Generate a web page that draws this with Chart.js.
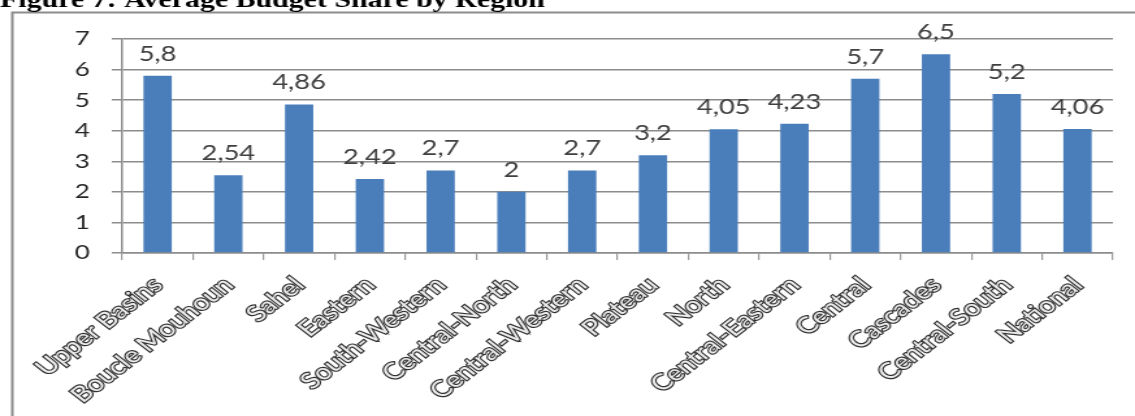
<!DOCTYPE html>
<html>
<head>
<meta charset="utf-8">
<script src="https://cdn.jsdelivr.net/npm/chart.js@4.4.1/dist/chart.umd.min.js"></script>
<style>
  html, body { margin: 0; padding: 0; background: #ffffff; overflow: hidden; }
  #c { display: block; width: 1135px; height: 416px; }
</style>
</head>
<body>
<canvas id="c" width="873" height="416" style="width:1135px;height:416px;"></canvas>
<script>
// Data
const titleText = 'Figure 7: Average Budget Share by Region';
const regions = ['Upper Basins', 'Boucle Mouhoun', 'Sahel', 'Eastern', 'South-Western', 'Central-North',
  'Central-Western', 'Plateau', 'North', 'Central-Eastern', 'Central', 'Cascades', 'Central-South', 'National'];
const budgetShare = [5.8, 2.54, 4.86, 2.42, 2.7, 2, 2.7, 3.2, 4.05, 4.23, 5.7, 6.5, 5.2, 4.06];
const yTicks = [0, 1, 2, 3, 4, 5, 6, 7];

const frameAndTitle = {
  id: 'frameAndTitle',
  beforeDraw(chart) {
    const ctx = chart.ctx;
    ctx.save();
    ctx.fillStyle = '#ffffff';
    ctx.fillRect(0, 0, chart.width, chart.height);
    ctx.strokeStyle = '#8c8c8c';
    ctx.lineWidth = 2;
    ctx.beginPath();
    ctx.moveTo(9.5, chart.height + 2);
    ctx.lineTo(9.5, 12.5);
    ctx.lineTo(chart.width + 2, 12.5);
    ctx.stroke();
    ctx.fillStyle = '#000000';
    ctx.font = 'bold 23px "Liberation Serif", "Times New Roman", serif';
    ctx.textBaseline = 'alphabetic';
    ctx.textAlign = 'left';
    ctx.fillText(titleText, 0, 6.5);
    ctx.restore();
  }
};

const valueLabels = {
  id: 'valueLabels',
  afterDatasetsDraw(chart) {
    const ctx = chart.ctx;
    const meta = chart.getDatasetMeta(0);
    ctx.save();
    ctx.font = '21px Lato, "Open Sans", sans-serif';
    ctx.fillStyle = '#404040';
    ctx.textAlign = 'center';
    ctx.textBaseline = 'alphabetic';
    meta.data.forEach((bar, i) => {
      const txt = String(budgetShare[i]).replace('.', ',');
      ctx.fillText(txt, bar.x, bar.y - 15);
    });
    ctx.restore();
  }
};

const chart = new Chart(document.getElementById('c'), {
  type: 'bar',
  data: {
    labels: regions,
    datasets: [{
      data: budgetShare,
      backgroundColor: '#4a7ebb',
      borderWidth: 0,
      categoryPercentage: 1.0,
      barPercentage: 0.4
    }]
  },
  options: {
    responsive: false,
    animation: false,
    devicePixelRatio: 1,
    layout: { padding: { left: 0, top: 39, right: 17, bottom: 0 } },
    plugins: {
      legend: { display: false },
      title: { display: false },
      tooltip: { enabled: false }
    },
    scales: {
      x: {
        offset: true,
        grid: {
          display: true,
          drawOnChartArea: false,
          drawTicks: true,
          tickLength: 7,
          color: '#9a9a9a',
          lineWidth: 1.2,
          offset: true
        },
        border: { display: true, color: '#8c8c8c', width: 1.5 },
        ticks: {
          autoSkip: false,
          minRotation: 45,
          maxRotation: 45,
          padding: 12,
          color: '#ebebeb',
          textStrokeColor: '#333333',
          textStrokeWidth: 2.4,
          font: { family: 'Lato, "Open Sans", sans-serif', size: 22 }
        },
        afterFit(scale) { scale.height = 163; }
      },
      y: {
        min: 0,
        max: 7,
        afterBuildTicks(scale) { scale.ticks = yTicks.map(v => ({ value: v })); },
        grid: {
          color: '#8c8c8c',
          lineWidth: 1.5,
          drawTicks: true,
          tickLength: 8
        },
        border: { display: true, color: '#8c8c8c', width: 1.5 },
        ticks: {
          padding: 17,
          color: '#262626',
          font: { family: 'Lato, "Open Sans", sans-serif', size: 20 }
        },
        afterFit(scale) { scale.width = 94; }
      }
    }
  },
  plugins: [frameAndTitle, valueLabels]
});
chart.canvas.style.width = '1135px';
chart.canvas.style.height = '416px';
</script>
</body>
</html>
